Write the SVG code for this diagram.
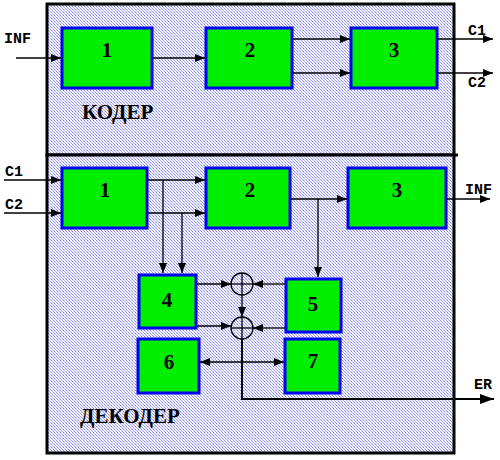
<svg xmlns="http://www.w3.org/2000/svg" width="500" height="460" viewBox="0 0 500 460">
<defs>
<pattern id="dots" width="3" height="3" patternUnits="userSpaceOnUse">
<rect width="3" height="3" fill="#eeeefc"/>
<rect width="1" height="1" fill="#8a8ae4"/>
<rect x="1" y="1" width="1" height="1" fill="#b8b8f0"/>
<rect x="2" y="2" width="1" height="1" fill="#a4a4ec"/>
</pattern>
<marker id="ah" viewBox="0 0 10 8" refX="10" refY="4" markerWidth="10" markerHeight="8" markerUnits="userSpaceOnUse" orient="auto-start-reverse">
<path d="M0,0 L10,4 L0,8 Z" fill="#000"/>
</marker>
<marker id="ahb" viewBox="0 0 14 10" refX="14" refY="5" markerWidth="14" markerHeight="10" markerUnits="userSpaceOnUse" orient="auto">
<path d="M0,0 L14,5 L0,10 Z" fill="#000"/>
</marker>
</defs>
<style>
.frame{fill:url(#dots);stroke:#000;stroke-width:3}
.blk{fill:#00ee00;stroke:#0000ee;stroke-width:3}
.num{font-family:"Liberation Serif","Times New Roman",serif;font-weight:bold;font-size:21px;text-anchor:middle;fill:#000}
.title{font-family:"Liberation Serif","Times New Roman",serif;font-weight:bold;font-size:21px;fill:#000}
.port{font-family:"Liberation Mono","Courier New",monospace;font-weight:bold;font-size:15px;fill:#000}
.ln{fill:none;stroke:#000;stroke-width:1.3}
.arr{fill:none;stroke:#000;stroke-width:1.3;marker-end:url(#ah)}
.sum{fill:none;stroke:#000;stroke-width:1.3}
</style>
<g id="coder-frame">
<rect class="frame" x="47" y="4" width="407" height="151"/>
<text class="title" x="82" y="119">КОДЕР</text>
</g>
<g id="decoder-frame">
<rect class="frame" x="47" y="155" width="407" height="298"/>
<line x1="454" y1="155" x2="458" y2="155" stroke="#000" stroke-width="3"/>
<text class="title" x="80" y="423">ДЕКОДЕР</text>
</g>
<g id="c1"><rect class="blk" x="62" y="28" width="90" height="60"/><text class="num" x="107" y="57">1</text></g>
<g id="c2"><rect class="blk" x="206" y="28" width="86" height="60"/><text class="num" x="250" y="57">2</text></g>
<g id="c3"><rect class="blk" x="351" y="28" width="86" height="60"/><text class="num" x="394" y="57">3</text></g>
<g id="d1"><rect class="blk" x="62" y="168" width="85" height="60"/><text class="num" x="105" y="197">1</text></g>
<g id="d2"><rect class="blk" x="206" y="168" width="84" height="60"/><text class="num" x="250" y="197">2</text></g>
<g id="d3"><rect class="blk" x="348" y="168" width="98" height="60"/><text class="num" x="397" y="197">3</text></g>
<g id="d4"><rect class="blk" x="139" y="275" width="57" height="53"/><text class="num" x="167" y="307">4</text></g>
<g id="d5"><rect class="blk" x="286" y="279" width="55" height="53"/><text class="num" x="313" y="311">5</text></g>
<g id="d6"><rect class="blk" x="138" y="339" width="61" height="54"/><text class="num" x="169" y="369">6</text></g>
<g id="d7"><rect class="blk" x="285" y="339" width="55" height="54"/><text class="num" x="313" y="368">7</text></g>
<g id="sum1"><circle class="sum" cx="242" cy="284" r="11"/><line class="ln" x1="231" y1="284" x2="253" y2="284"/><line class="ln" x1="242" y1="273" x2="242" y2="295"/></g>
<g id="sum2"><circle class="sum" cx="242" cy="328" r="11"/><line class="ln" x1="231" y1="328" x2="253" y2="328"/><line class="ln" x1="242" y1="317" x2="242" y2="339"/></g>
<g id="connectors">
<line class="arr" x1="16" y1="58" x2="61" y2="58"/>
<line class="arr" x1="153" y1="58" x2="205" y2="58"/>
<line class="arr" x1="293" y1="39" x2="350" y2="39"/>
<line class="arr" x1="293" y1="73" x2="350" y2="73"/>
<line class="arr" x1="438" y1="39" x2="493" y2="39"/>
<line class="arr" x1="438" y1="73" x2="493" y2="73"/>
<line class="arr" x1="4" y1="180" x2="61" y2="180"/>
<line class="arr" x1="4" y1="213" x2="61" y2="213"/>
<line class="arr" x1="148" y1="180" x2="205" y2="180"/>
<line class="arr" x1="148" y1="213" x2="205" y2="213"/>
<line class="arr" x1="163" y1="180" x2="163" y2="273"/>
<line class="arr" x1="182" y1="213" x2="182" y2="273"/>
<line class="arr" x1="291" y1="199" x2="347" y2="199"/>
<line class="arr" x1="318" y1="199" x2="318" y2="277"/>
<line class="arr" x1="447" y1="199" x2="490" y2="199"/>
<line class="arr" x1="197" y1="284" x2="231" y2="284"/>
<line class="arr" x1="285" y1="284" x2="253" y2="284"/>
<line class="arr" x1="242" y1="295" x2="242" y2="317"/>
<line class="arr" x1="197" y1="326" x2="231" y2="326"/>
<line class="arr" x1="285" y1="328" x2="253" y2="328"/>
<line class="arr" x1="200" y1="362" x2="284" y2="362" style="marker-start:url(#ah)"/>
<polyline points="242,339 242,399 494,399" fill="none" stroke="#000" stroke-width="2" marker-end="url(#ahb)"/>
</g>
<g id="ports">
<text class="port" x="4" y="43">INF</text>
<text class="port" x="468" y="35">C1</text>
<text class="port" x="468" y="87">C2</text>
<text class="port" x="5" y="176">C1</text>
<text class="port" x="5" y="209">C2</text>
<text class="port" x="465" y="194">INF</text>
<text class="port" x="474" y="389">ER</text>
</g>
</svg>
